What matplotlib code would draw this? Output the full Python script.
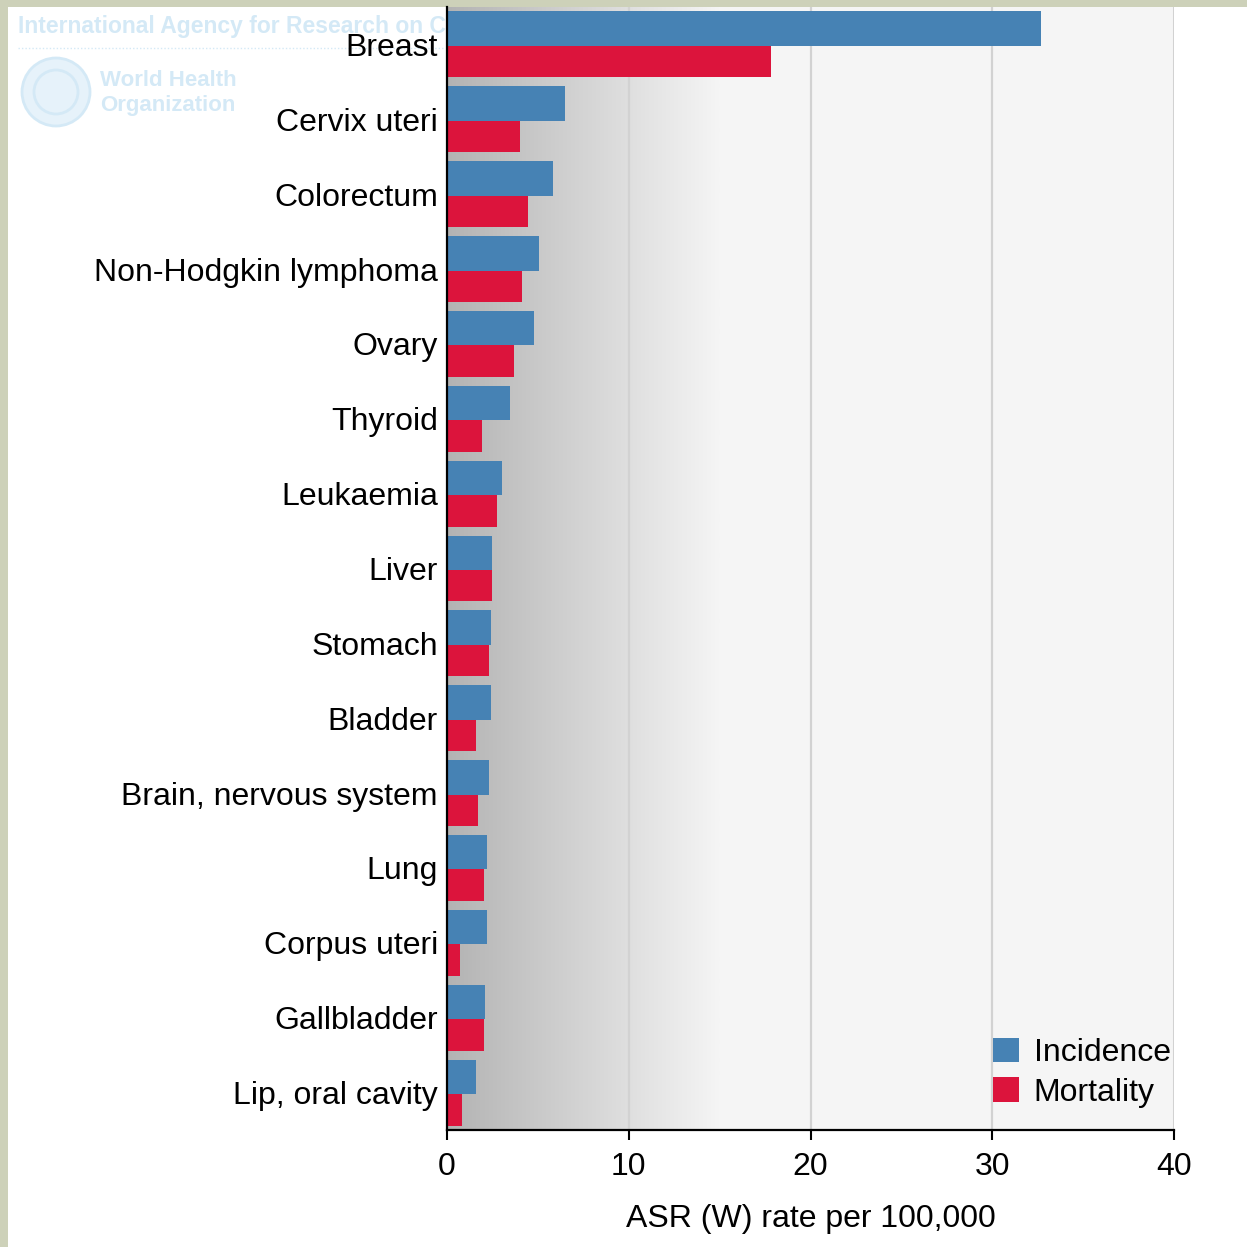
import matplotlib
matplotlib.use("Agg")
import matplotlib.pyplot as plt
import numpy as np
from matplotlib.patches import Patch, Circle, Rectangle
from matplotlib.lines import Line2D
from matplotlib.colors import LinearSegmentedColormap

plt.rcParams['font.family'] = ['Liberation Sans', 'DejaVu Sans']

categories = ["Breast", "Cervix uteri", "Colorectum", "Non-Hodgkin lymphoma", "Ovary",
              "Thyroid", "Leukaemia", "Liver", "Stomach", "Bladder",
              "Brain, nervous system", "Lung", "Corpus uteri", "Gallbladder", "Lip, oral cavity"]
incidence = [32.7, 6.5, 5.85, 5.05, 4.8, 3.45, 3.0, 2.5, 2.4, 2.4, 2.3, 2.2, 2.2, 2.1, 1.6]
mortality = [17.8, 4.0, 4.45, 4.15, 3.7, 1.95, 2.75, 2.5, 2.3, 1.6, 1.7, 2.05, 0.7, 2.05, 0.8]
series_names = ["Incidence", "Mortality"]
xticks = [0, 10, 20, 30, 40]
xlabel = "ASR (W) rate per 100,000"

C_INC = "#4682b4"
C_MORT = "#dc143c"

W = H = 1247
fig = plt.figure(figsize=(W / 100, H / 100), dpi=100)
fig.patch.set_facecolor("white")

# border (top and left)
fig.patches.append(Rectangle((0, 1 - 7 / H), 1, 7 / H, transform=fig.transFigure,
                             facecolor="#cdd1b9", edgecolor="none", zorder=-5))
fig.patches.append(Rectangle((0, 0), 8 / W, 1, transform=fig.transFigure,
                             facecolor="#cdd1b9", edgecolor="none", zorder=-5))

# watermark
wm = "#d4e9f6"
fig.text(18 / W, 1 - 26 / H, "International Agency for Research on Cancer", color=wm,
         fontsize=16.5, fontweight="bold", va="center", ha="left", zorder=-2)
fig.lines.append(Line2D([18 / W, 445 / W], [1 - 48 / H, 1 - 48 / H], transform=fig.transFigure,
                        color=wm, lw=1, ls=(0, (1, 1.5)), zorder=-2))
fig.patches.append(Circle((56 / W, 1 - 92 / H), 34 / W, transform=fig.transFigure,
                          facecolor="#e6f2fa", edgecolor=wm, lw=2, zorder=-2))
fig.patches.append(Circle((56 / W, 1 - 92 / H), 22 / W, transform=fig.transFigure,
                          facecolor="none", edgecolor=wm, lw=2, zorder=-2))
fig.text(100 / W, 1 - 81 / H, "World Health", color=wm, fontsize=16, fontweight="bold",
         va="center", ha="left", zorder=-2)
fig.text(100 / W, 1 - 105 / H, "Organization", color=wm, fontsize=16, fontweight="bold",
         va="center", ha="left", zorder=-2)

left, right = 447 / W, 1174 / W
top, bottom = 1 - 7 / H, 1 - 1130 / H
ax = fig.add_axes([left, bottom, right - left, top - bottom])
ax.set_facecolor("#f5f5f5")

n = len(categories)
y = np.arange(n)

# gradient background
grad = np.linspace(0, 1, 256).reshape(1, -1)
cmap = LinearSegmentedColormap.from_list("g", ["#b3b3b3", "#f5f5f5"])
ax.imshow(grad, extent=[0, 15, n - 0.5, -0.5], aspect="auto", cmap=cmap, zorder=0,
          interpolation="bilinear")
ax.set_xlim(0, 40)
ax.set_ylim(n - 0.5, -0.5)

for xv in xticks[1:]:
    ax.axvline(xv, color="#d2d2d2", lw=1.6 if xv < 40 else 2.2, zorder=1)

ax.barh(y - 0.21, incidence, height=0.46, color=C_INC, zorder=3, label=series_names[0])
ax.barh(y + 0.23, mortality, height=0.42, color=C_MORT, zorder=3, label=series_names[1])

ax.set_yticks(y)
ax.set_yticklabels(categories, fontsize=23)
ax.tick_params(axis="y", length=0, pad=6.5)
ax.set_xticks(xticks)
ax.set_xticklabels([str(t) for t in xticks], fontsize=23)
ax.tick_params(axis="x", length=7, width=1.5, direction="out", pad=8.5, color="black")
ax.set_xlabel(xlabel, fontsize=23, labelpad=16)

for s in ["top", "right"]:
    ax.spines[s].set_visible(False)
for s in ["left", "bottom"]:
    ax.spines[s].set_color("black")
    ax.spines[s].set_linewidth(1.6)
    ax.spines[s].set_zorder(5)

handles = [Patch(facecolor=C_INC, edgecolor="none"), Patch(facecolor=C_MORT, edgecolor="none")]
leg = ax.legend(handles, series_names, loc="upper left",
                bbox_to_anchor=(993 / W, 1 - 1038 / H), bbox_transform=fig.transFigure,
                frameon=False, fontsize=23, handlelength=0.8, handleheight=0.8,
                handletextpad=0.47, labelspacing=0.28, borderpad=0, borderaxespad=0)

fig.savefig("out.png", dpi=100)
